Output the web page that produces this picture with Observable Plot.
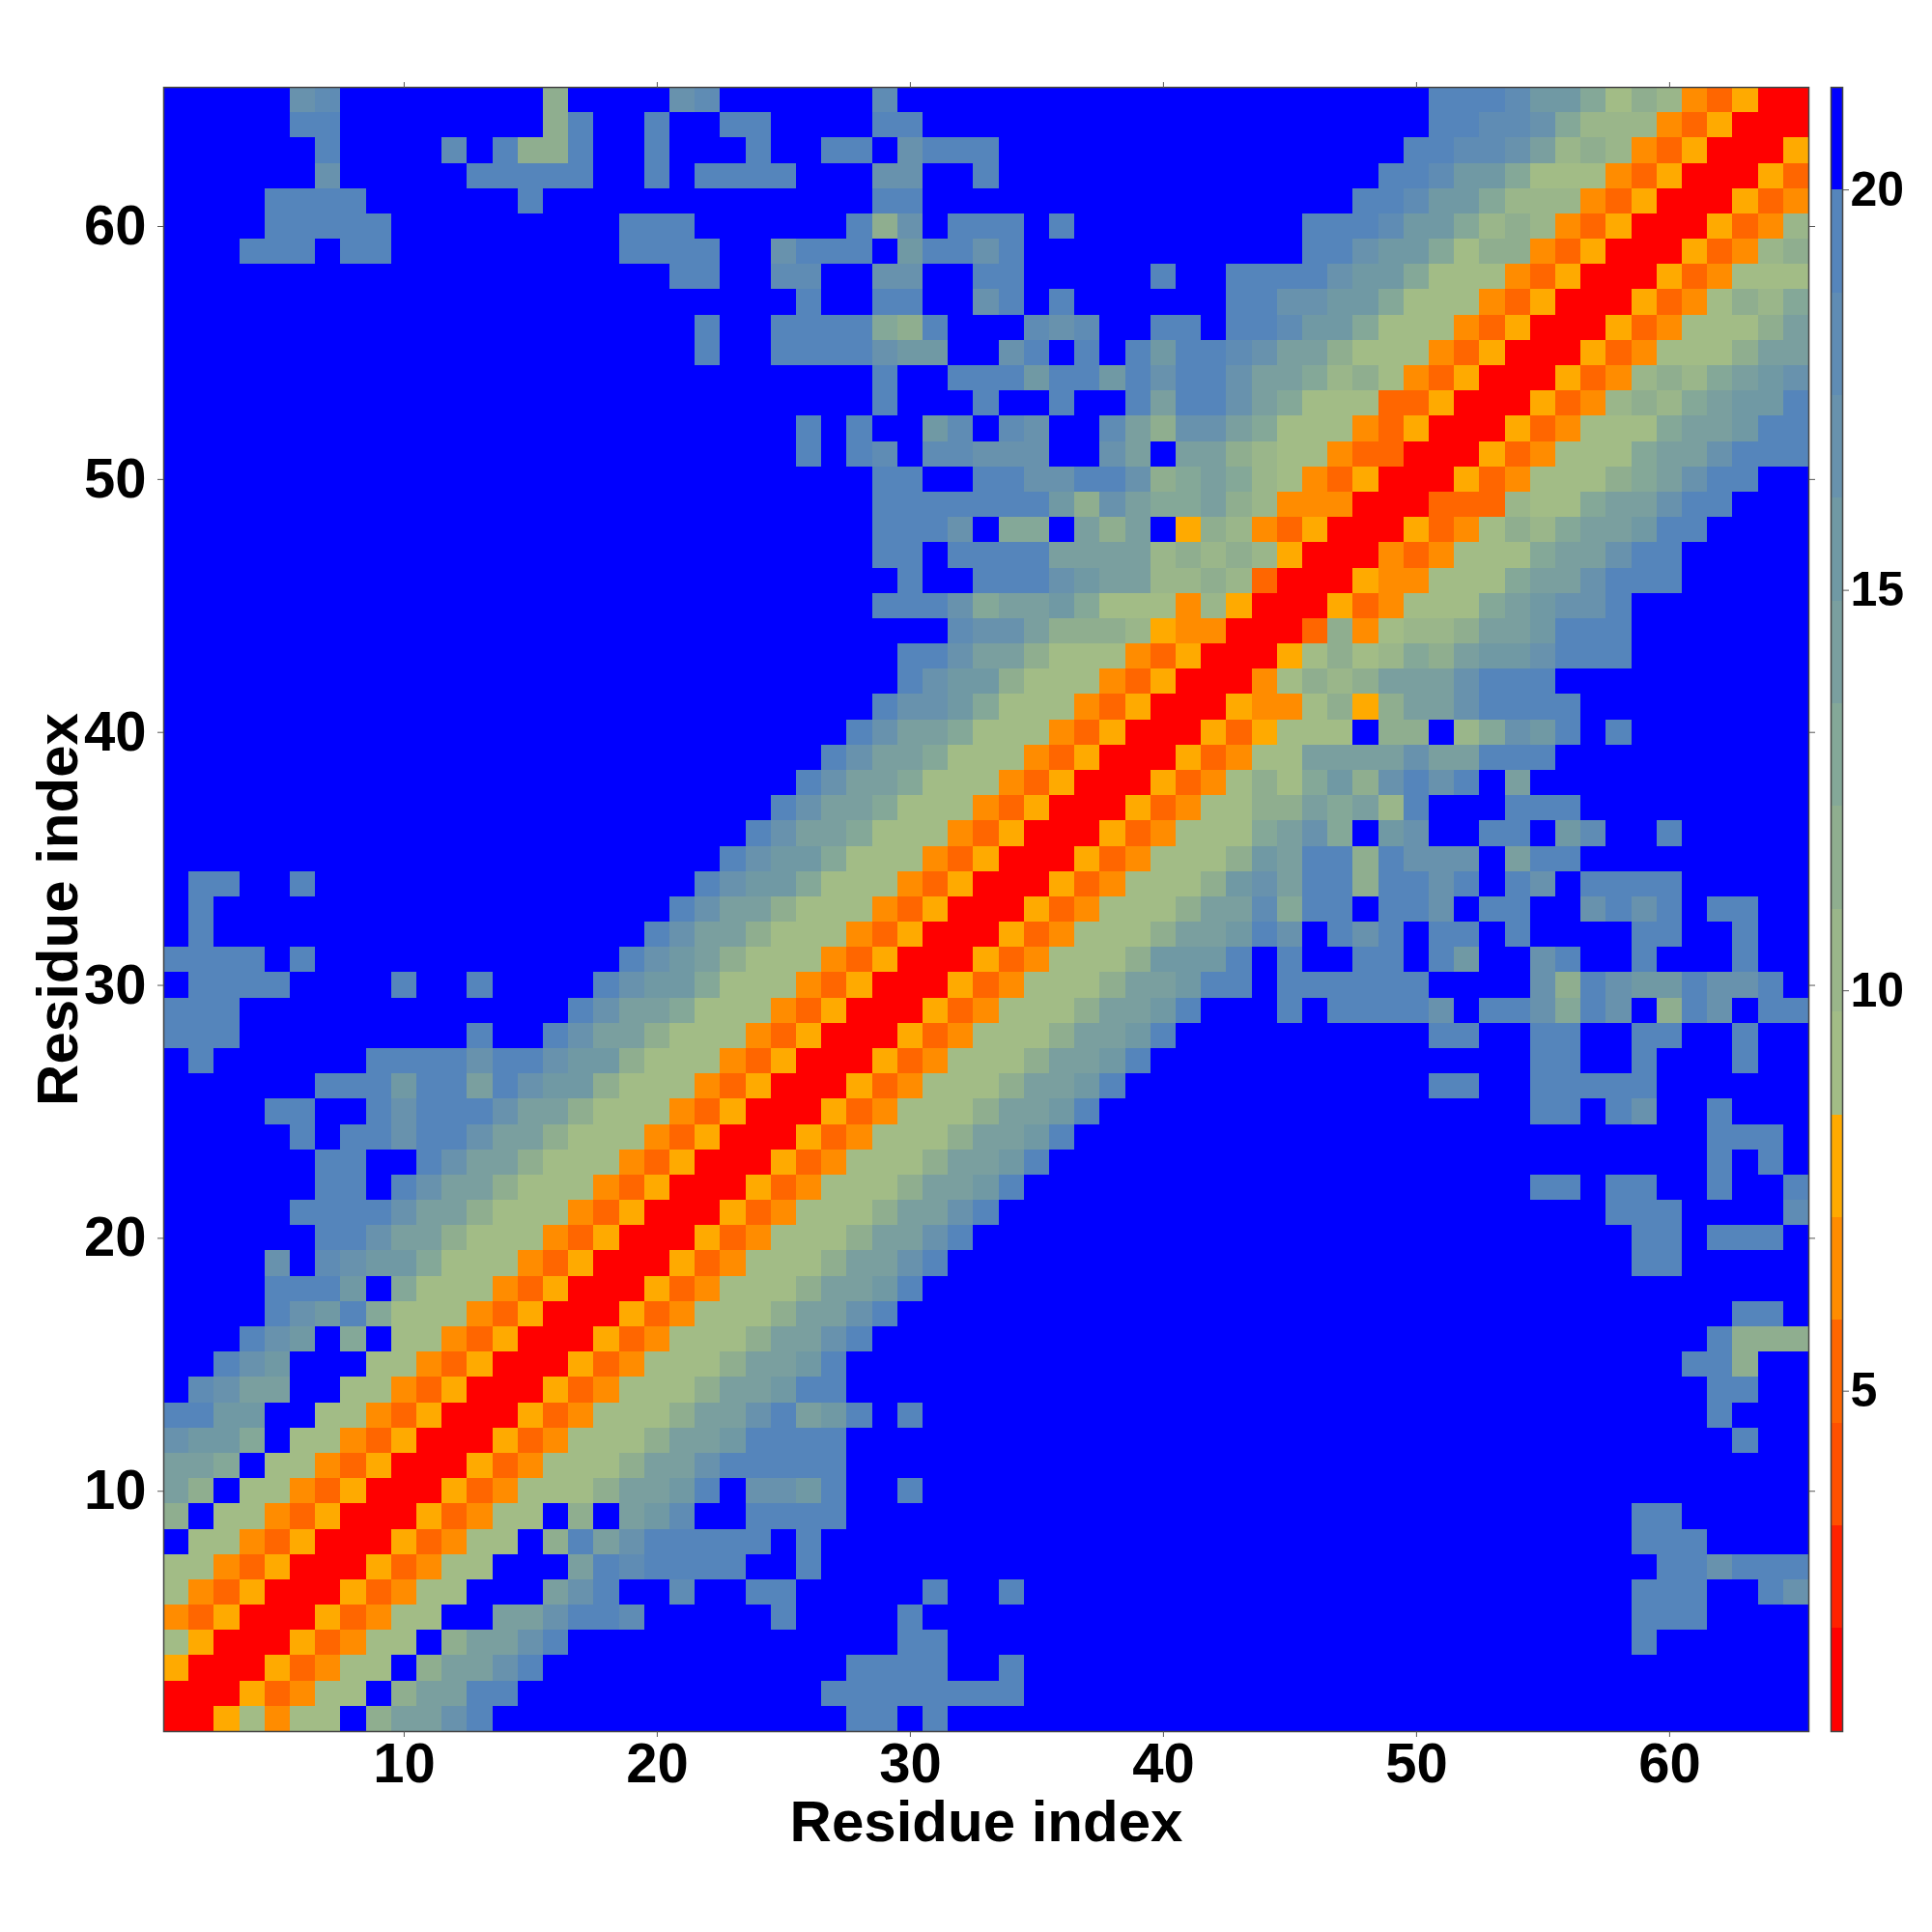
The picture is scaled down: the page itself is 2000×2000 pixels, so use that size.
<!DOCTYPE html>
<html>
<head>
<meta charset="utf-8">
<script src="https://cdn.jsdelivr.net/npm/d3@7"></script>
<script src="https://cdn.jsdelivr.net/npm/@observablehq/plot@0.6"></script>
<style>
html,body{margin:0;padding:0;background:#fff;}
#wrap{position:relative;width:2000px;height:2000px;}
#wrap>svg{position:absolute;top:0;}
</style>
</head>
<body>
<div id="wrap"></div>
<script>
// Band edges of the colour bar (distance), bottom to top
const breaks = [2.036,3.319,4.602,5.885,7.168,8.451,9.734,11.017,12.3,13.583,14.866,16.149,17.432,18.715,20];
const domainLimits = [0.75,21.28];
const bandColors = ["#ff0000","#ff2200","#ff5000","#ff6600","#ff8c00","#ffaa00","#a2bc86","#9ab68a","#8fae8f","#84a898","#7a9f9f","#7099a4","#6892ad","#5f8cb4","#5585bb","#0000ff"];
const bandValues = [1.4,2.68,3.96,5.24,6.52,7.8,9.08,10.36,11.64,12.92,14.2,15.48,16.76,18.04,19.32,20.6];
const ticksMain = [10,20,30,40,50,60];
const ticksBar = [5,10,15,20];
const axisTitle = "Residue index";
// One string per row (residue 65 at the top); each character is a colour band, 0..f; columns 1-22, 23-44, 45-65
const rows = [
"fffffcdffffffff8ffffcd ffffffdfffffffffffffff ffffffeeedbb968743500",
"fffffeeffffffff8effeff eeffffeeffffffffffffff ffffffeeddc9777435000",
"ffffffeffffdfe88effeff feffeefceeefffffffffff fffffeeddca7874350005",
"ffffffcfffffeeeeeffefe eeefffccffefffffffffff ffffeedbb966643500053",
"ffffeeeeffffffefffffff ffffffeeffffffffffffff fffeedbb9777435000534",
"ffffeeeeefffffffffeeef fffffe8cfeeefeffffffff feeedbb97874350005347",
"fffeeefeefffffffffeeee ffceeefbeeceffffffffff feecbb968843500053478",
"ffffffffffffffffffffee ffddffccffeefffffeffee eecbb9666435000534666",
"ffffffffffffffffffffff fffeffeeffcefeffffffee ccbb96664350005346879",
"fffffffffffffffffffffe ffeeee98efffdcdffeefee dbb96664350005346668a",
"fffffffffffffffffffffe ffeeeecbbffcefefebeedc aa86664350005346668aa",
"ffffffffffffffffffffff ffffffeffeeebeebeceeca a97864350005347879abc",
"ffffffffffffffffffffff ffffffefffeffeffeaeeca 96663350005347879abbe",
"ffffffffffffffffffffff fffefeffbdfdcffda8cca9 6664350005346669aabee",
"ffffffffffffffffffffff fffefedfddcccffcafaa87 664330005346669aaceee",
"ffffffffffffffffffffff ffffffeeffeecceec89a97 643500053466689aceeff",
"ffffffffffffffffffffff ffffffeeeeeeeb8ca99a87 4440003337669aaceefff",
"ffffffffffffffffffffff ffffffeeecf99fa8af5874 350005346879aabeeffff",
"ffffffffffffffffffffff ffffffeefeeeeaaaa78787 50004346669aaceefffff",
"ffffffffffffffffffffff fffffffeffeeecbaa77873 0005446669aaceeefffff",
"ffffffffffffffffffffff ffffffeeec9aab96664750 005346669abccefffffff",
"ffffffffffffffffffffff fffffffffdcca888754400 03846778aabeeefffffff",
"ffffffffffffffffffffff fffffffeecaa8666435000 5686798abbceeefffffff",
"ffffffffffffffffffffff fffffffecbb86664350004 6878aaaceeeffffffffff",
"ffffffffffffffffffffff ffffffeccb966643500054 46858aaceeeefffffffff",
"ffffffffffffffffffffff fffffecaa9666435000535 666f88f79cbefefffffff",
"ffffffffffffffffffffff ffffecaa96664350005346 6aaaacaaeeeffffffffff",
"ffffffffffffffffffffff fffecaa966643500053468 69b8cecefafffffffffff",
"ffffffffffffffffffffff ffecaa9666435000534668 8a9a7efffeeefffffffff",
"ffffffffffffffffffffff fecaa96664350005346669 ac9fbcffeefbdffefffff",
"ffffffffffffffffffffff ecbb96664350005346668b aee8ecccfaeefffffffff",
"feeffefffffffffffffffe cbb96664350005346668bc aee8eecefecfeeeefffff",
"feffffffffffffffffffec aa86664350005346668aad 9eefeecfeeffcecefeeff",
"fefffffffffffffffffeca a86664350005346668aabe cfecefeefeffffeeffeff",
"eeeefeffffffffffffecba 86664350005346668bbbef effeefebffceffefffeff",
"feeeeffffeffeffffecbb9 6664350005346668aabeef eeeeeeffffc8ecbbeccef",
"eeefffffffffffffecaa96 664350005346668aabefff efeeeecfeec9ecf8ecfee",
"eeefffffffffeffecaa866 64350005346668aabeffff ffffffeeffeeffeeffeff",
"feffffffeeeeceecbb8666 4350005346668aabefffff ffffffffffeeffefffeff",
"ffffffeeebeeaecbb86664 350005346668aabeffffff ffffffeeffeeeeeffffff",
"ffffeeffeceeecaa866643 50005346668aabefffffff ffffffffffeefecffefff",
"fffffefeeceecaa8666435 0005346668aabeffffffff fffffffffffffffffeeef",
"ffffffeeffecaa86664350 005346668aabefffffffff fffffffffffffffffefef",
"ffffffeefecaa866643500 05346668aabeffffffffff ffffffffffeefeeffeffe",
"fffffeeeecaa8666435000 5346668aacefffffffffff fffffffffffffeeeffffd",
"ffffffeecaa86664350005 346668aaceffffffffffff ffffffffffffffeefeeef",
"ffffcfdcbb966643500053 46668aacefffffffffffff ffffffffffffffeefffff",
"ffffeeebf9666435000534 6668aabeffffffffffffff fffffffffffffffffffff",
"ffffecbe96664350005346 668aacefffffffffffffff ffffffffffffffffffeef",
"fffecbf9f6643500053466 68aaceffffffffffffffff fffffffffffffffffe888",
"ffecbfff66435000534666 8aabefffffffffffffffff ffffffffffffffffee8ff",
"fdcaaff664350005346668 aabeefffffffffffffffff fffffffffffffffffeeff",
"eebbff664350005346668a aceabefeffffffffffffff fffffffffffffffffefff",
"cbb9f664350005346668aa beeeefffffffffffffffff ffffffffffffffffffeff",
"aa9f664350005346668aac eeeeefffffffffffffffff fffffffffffffffffffff",
"a8f664350005346668aabe fccbeffeffffffffffffff fffffffffffffffffffff",
"8f6643500053466f8fabdf feeeefffffffffffffffff ffffffffffffffeefffff",
"f6643500053466f8eaceee eefeffffffffffffffffff ffffffffffffffeeeffff",
"6643500053466fffaedeee effeffffffffffffffffff fffffffffffffffeeceee",
"643500053466fffaceffdf feefffffeffeffffffffff ffffffffffffffeeeffec",
"43500053466ffaaceedfff ffeffffeffffffffffffff ffffffffffffffeeeffff",
"6500053466f8aaceffffff fffffffeefffffffffffff ffffffffffffffeffffff",
"500053466f8aacefffffff fffffeeeeffeffffffffff fffffffffffffffffffff",
"00053466f8aaeeffffffff ffffeeeeeeeeffffffffff fffffffffffffffffffff",
"0056466f8aacefffffffff fffffeefefffffffffffff fffffffffffffffffffff"
];

const cells = [];
rows.forEach((line, r) => {
  const chars = line.replace(/ /g, "");
  if (chars.length !== 65) throw new Error("row " + (65 - r) + " has " + chars.length);
  for (let c = 0; c < 65; c++) {
    cells.push({col: c + 1, row: 65 - r, v: bandValues[parseInt(chars[c], 16)]});
  }
});

const font = {fontFamily: "'Liberation Sans', Arial, sans-serif", fontWeight: "bold", background: "transparent", overflow: "visible"};
const noLabel = () => "";

const main = Plot.plot({
  width: 2000, height: 2000,
  marginLeft: 169, marginRight: 128, marginTop: 90, marginBottom: 208,
  style: font,
  x: {domain: [0.5, 65.5], axis: null},
  y: {domain: [0.5, 65.5], axis: null},
  color: {type: "threshold", domain: breaks, range: bandColors},
  marks: [
    Plot.rect(cells, {x1: d => d.col - 0.5, x2: d => d.col + 0.5, y1: d => d.row - 0.5, y2: d => d.row + 0.5, fill: "v", shapeRendering: "crispEdges"}),
    Plot.frame({stroke: "#444", strokeWidth: 1.5}),
    Plot.axisX({anchor: "bottom", ticks: ticksMain, tickSize: 6, tickPadding: 5, label: null, fontSize: 58, stroke: "#555", fill: "#000"}),
    Plot.axisX({anchor: "top", ticks: ticksMain, tickSize: 6, tickFormat: noLabel, label: null, stroke: "#555"}),
    Plot.axisY({anchor: "left", ticks: ticksMain, tickSize: 6, tickPadding: 12, label: null, fontSize: 58, stroke: "#555", fill: "#000"}),
    Plot.axisY({anchor: "right", ticks: ticksMain, tickSize: 6, tickFormat: noLabel, label: null, stroke: "#555"}),
    Plot.text([axisTitle], {frameAnchor: "bottom", dy: 113, text: d => d, fontSize: 60, fontWeight: "bold", fill: "#000", lineAnchor: "bottom"}),
    Plot.text([axisTitle], {frameAnchor: "left", dx: -109, rotate: -90, text: d => d, textAnchor: "middle", fontSize: 60, fontWeight: "bold", fill: "#000", lineAnchor: "middle"})
  ]
});

const barEdges = [domainLimits[0], ...breaks, domainLimits[1]];
const barBands = bandValues.map((v, i) => ({v, lo: barEdges[i], hi: barEdges[i + 1]}));
const bar = Plot.plot({
  width: 120, height: 2000,
  marginLeft: 16, marginRight: 92, marginTop: 90, marginBottom: 208,
  style: font,
  x: {domain: [0, 1], axis: null},
  y: {domain: domainLimits, axis: null},
  color: {type: "threshold", domain: breaks, range: bandColors},
  marks: [
    Plot.rect(barBands, {x1: 0, x2: 1, y1: "lo", y2: "hi", fill: "v", shapeRendering: "crispEdges"}),
    Plot.frame({stroke: "#444", strokeWidth: 1.5}),
    Plot.axisY({anchor: "right", ticks: ticksBar, tickSize: 6, tickPadding: 2, label: null, fontSize: 50, stroke: "#555", fill: "#000"})
  ]
});

const wrap = document.getElementById("wrap");
main.style.left = "0px";
bar.style.left = "1879px";
wrap.append(main, bar);
</script>
</body>
</html>
